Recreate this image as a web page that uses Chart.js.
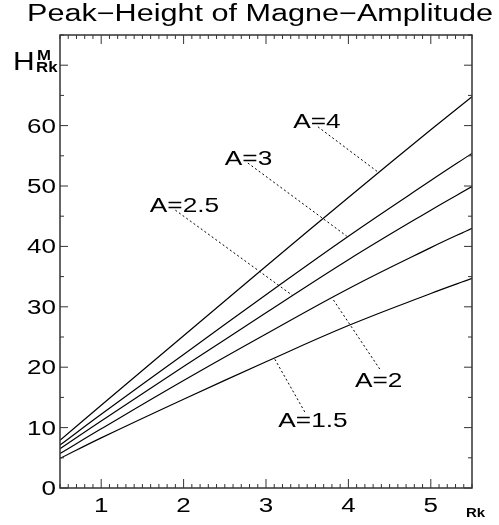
<!DOCTYPE html>
<html>
<head>
<meta charset="utf-8">
<script src="https://cdn.jsdelivr.net/npm/chart.js@4.4.0/dist/chart.umd.min.js"></script>
<style>
  body { margin: 0; background: #fff; }
  canvas { display: block; }
</style>
</head>
<body>
<canvas id="c" width="499" height="525"></canvas>
<script>
var rk = [0.5, 1, 2, 3, 4, 5, 5.5];

// peak height for each amplitude A
var hA4  = [7.9, 13.7, 25.2, 36.7, 48.1, 59.3, 64.8];
var hA3  = [7.1, 12.2, 22.1, 32.0, 41.7, 50.9, 55.4];
var hA25 = [6.5, 11.1, 20.1, 29.0, 37.8, 46.0, 49.9];
var hA2  = [5.7,  9.8, 17.8, 25.5, 33.0, 39.8, 43.0];
var hA15 = [4.9,  8.3, 14.7, 20.9, 26.9, 32.2, 34.7];

var series = [hA4, hA3, hA25, hA2, hA15];

// curve labels: text, where the text sits, and the dotted leader line
var labelText = ['A=4', 'A=3', 'A=2.5', 'A=2', 'A=1.5'];
var labelAt = [[3.33, 59.6], [2.50, 53.5], [1.59, 45.7], [4.08, 16.7], [3.15, 10.1]];
var leaders = [
  [[3.63, 59.8], [4.36, 52.3]],
  [[2.78, 53.8], [3.98, 41.7]],
  [[1.90, 46.0], [3.32, 31.9]],
  [[4.38, 19.7], [3.80, 31.5]],
  [[3.47, 12.6], [3.10, 21.5]]
];

var xTicks = [1, 2, 3, 4, 5];
var yTicks = [0, 10, 20, 30, 40, 50, 60];

function pts(xs, ys) {
  return xs.map(function (x, i) { return {x: x, y: ys[i]}; });
}

var datasets = [];
series.forEach(function (s) {
  datasets.push({
    data: pts(rk, s),
    borderColor: '#000',
    borderWidth: 1.2,
    pointRadius: 0,
    tension: 0.4,
    fill: false
  });
});
leaders.forEach(function (l) {
  datasets.push({
    data: l.map(function (p) { return {x: p[0], y: p[1]}; }),
    borderColor: '#000',
    borderWidth: 1,
    borderDash: [2, 2.5],
    pointRadius: 0,
    fill: false
  });
});

var FONT = '"Liberation Sans", Arial, sans-serif';

function sText(ctx, txt, x, y, font, align, sx) {
  ctx.save();
  ctx.font = font;
  ctx.fillStyle = '#000';
  ctx.textBaseline = 'alphabetic';
  ctx.translate(x, y);
  ctx.scale(sx, 1);
  ctx.textAlign = align;
  ctx.fillText(txt, 0, 0);
  ctx.restore();
}

// frame, inward ticks and all the text
var decor = {
  id: 'decor',
  afterDraw: function (chart) {
    var ctx = chart.ctx, a = chart.chartArea;
    var xs = chart.scales.x, ys = chart.scales.y;

    ctx.save();
    ctx.strokeStyle = '#333';
    ctx.lineWidth = 1.5;
    ctx.strokeRect(a.left, a.top, a.right - a.left, a.bottom - a.top);

    ctx.lineWidth = 1;
    ctx.beginPath();
    // x ticks every 0.1, longer on integers
    for (var i = 5; i <= 55; i++) {
      var v = i / 10;
      var px = xs.getPixelForValue(v);
      var len = (i % 10 === 0) ? 9 : 4;
      ctx.moveTo(px, a.bottom); ctx.lineTo(px, a.bottom - len);
      ctx.moveTo(px, a.top); ctx.lineTo(px, a.top + len);
    }
    // y ticks every 5, longer every 10
    for (var j = 0; j <= 75; j += 5) {
      var py = ys.getPixelForValue(j);
      var ln = (j % 10 === 0) ? 8 : 4;
      ctx.moveTo(a.left, py); ctx.lineTo(a.left + ln, py);
      ctx.moveTo(a.right, py); ctx.lineTo(a.right - ln, py);
    }
    ctx.stroke();
    ctx.restore();

    // tick labels
    yTicks.forEach(function (t) {
      sText(ctx, String(t), a.left - 4, ys.getPixelForValue(t) + 7, '20px ' + FONT, 'right', 1.3);
    });
    xTicks.forEach(function (t) {
      sText(ctx, String(t), xs.getPixelForValue(t), 512, '20px ' + FONT, 'center', 1.3);
    });

    // title and axis titles
    sText(ctx, 'Peak\u2212Height of Magne\u2212Amplitude', 260, 21, '23px ' + FONT, 'center', 1.33);
    sText(ctx, 'H', 13, 70, '25px ' + FONT, 'left', 1.2);
    sText(ctx, 'M', 37, 60, 'bold 14px ' + FONT, 'left', 1.2);
    sText(ctx, 'Rk', 36, 72, 'bold 14px ' + FONT, 'left', 1.2);
    sText(ctx, 'Rk', 466, 517, 'bold 13px ' + FONT, 'left', 1.15);

    // curve labels
    labelText.forEach(function (t, k) {
      sText(ctx, t, xs.getPixelForValue(labelAt[k][0]), ys.getPixelForValue(labelAt[k][1]),
        '21px ' + FONT, 'left', 1.25);
    });
  }
};

new Chart(document.getElementById('c').getContext('2d'), {
  type: 'line',
  data: { datasets: datasets },
  options: {
    responsive: false,
    animation: false,
    layout: { padding: { left: 60, right: 27, top: 35, bottom: 37 } },
    plugins: { legend: { display: false }, title: { display: false }, tooltip: { enabled: false } },
    scales: {
      x: { type: 'linear', min: 0.5, max: 5.5, display: false },
      y: { type: 'linear', min: 0, max: 75, display: false }
    }
  },
  plugins: [decor]
});
</script>
</body>
</html>
